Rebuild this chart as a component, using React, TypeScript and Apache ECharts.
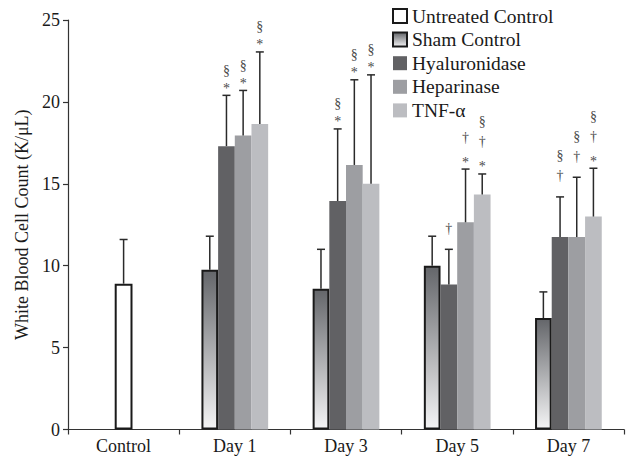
import React, { useEffect, useRef } from "react";
import * as echarts from "echarts";

const categories = ["Control", "Day 1", "Day 3", "Day 5", "Day 7"];
const seriesNames = ["Untreated Control", "Sham Control", "Hyaluronidase", "Heparinase", "TNF-α"];

const untreatedMean = [8.9, null, null, null, null];
const untreatedUpper = [11.6, null, null, null, null];
const shamMean = [null, 9.75, 8.6, 10.0, 6.8];
const shamUpper = [null, 11.8, 11.0, 11.8, 8.4];
const hyalMean = [null, 17.3, 13.95, 8.85, 11.75];
const hyalUpper = [null, 20.4, 18.35, 11.0, 14.2];
const hepMean = [null, 17.95, 16.15, 12.65, 11.75];
const hepUpper = [null, 20.7, 21.35, 15.9, 15.4];
const tnfMean = [null, 18.65, 15.0, 14.35, 13.0];
const tnfUpper = [null, 23.05, 21.65, 15.6, 15.95];

const untreatedMarks = ["", "", "", "", ""];
const shamMarks = ["", "", "", "", ""];
const hyalMarks = ["", "*§", "*§", "†", "†§"];
const hepMarks = ["", "*§", "*§", "*†", "†§"];
const tnfMarks = ["", "*§", "*§", "*†§", "*†§"];

const yTicks = [0, 5, 10, 15, 20, 25];

const FONT = "'Liberation Serif', 'Times New Roman', serif";

function errSeries(means: (number | null)[], uppers: (number | null)[], marks: string[], offset: number, frac: number, xAxisIndex: number) {
  const data: number[][] = [];
  means.forEach((m, i) => {
    if (m != null && uppers[i] != null) data.push([i, m, uppers[i] as number]);
  });
  return {
    type: "custom",
    xAxisIndex,
    yAxisIndex: 0,
    z: 10,
    silent: true,
    clip: false,
    data,
    renderItem: (params: any, api: any) => {
      const i = api.value(0);
      const mean = api.value(1);
      const up = api.value(2);
      const base = api.coord([i, mean]);
      const top = api.coord([i, up]);
      const bw = api.size([1, 0])[0] * frac;
      const x = base[0] + offset * bw;
      const children: any[] = [
        { type: "line", shape: { x1: x, y1: base[1], x2: x, y2: top[1] }, style: { stroke: "#2a2a2a", lineWidth: 1.5 } },
        { type: "line", shape: { x1: x - 4, y1: top[1], x2: x + 4, y2: top[1] }, style: { stroke: "#2a2a2a", lineWidth: 1.5 } },
      ];
      const m = marks[i] || "";
      let vc = top[1];
      let prev = "";
      for (const ch of Array.from(m)) {
        if (prev === "") vc = ch === "*" ? top[1] - 9 : top[1] - 20;
        else if (prev === "*") vc = vc - (ch === "†" ? 22 : 15);
        else vc = vc - 20;
        const ty = ch === "*" ? vc + 2 : vc - 1;
        children.push({
          type: "text",
          style: { text: ch, x, y: ty, align: "center", verticalAlign: "middle", fill: "#4a4a4a", font: `14px ${FONT}` },
        });
        prev = ch;
      }
      return { type: "group", children };
    },
  };
}

export default function App() {
  const ref = useRef<HTMLDivElement>(null);
  useEffect(() => {
    if (!ref.current) return;
    const chart = echarts.init(ref.current, null, { renderer: "svg" });
    const shamGrad = new echarts.graphic.LinearGradient(0, 0, 0, 1, [
      { offset: 0, color: "#64666a" },
      { offset: 1, color: "#f4f4f5" },
    ]);
    const barW = 0.15;
    const untW = 0.16;
    chart.setOption({
      animation: false,
      backgroundColor: "#ffffff",
      textStyle: { fontFamily: FONT },
      grid: { left: 68, right: 7, top: 20, bottom: 28.5, containLabel: false },
      legend: {
        data: seriesNames,
        orient: "vertical",
        left: 387,
        top: 1,
        itemWidth: 14,
        itemHeight: 14,
        itemGap: 3.6,
        icon: "rect",
        textStyle: { fontFamily: FONT, fontSize: 19.5, color: "#1a1a1a", lineHeight: 19 },
      },
      xAxis: [
        {
          type: "category",
          data: categories,
          axisLine: { lineStyle: { color: "#333", width: 1.2 } },
          axisTick: { show: true, length: 5, lineStyle: { color: "#333", width: 1.2 } },
          axisLabel: { fontFamily: FONT, fontSize: 18, color: "#1a1a1a", margin: 7 },
        },
        { type: "category", data: categories, show: false },
      ],
      yAxis: {
        type: "value",
        min: 0,
        max: 25,
        interval: 5,
        name: "White Blood Cell Count (K/μL)",
        nameLocation: "middle",
        nameGap: 36,
        nameTextStyle: { fontFamily: FONT, fontSize: 18, color: "#1a1a1a" },
        axisLine: { show: true, lineStyle: { color: "#333", width: 1.2 } },
        axisTick: { show: true, length: 5, lineStyle: { color: "#333", width: 1.2 } },
        axisLabel: {
          fontFamily: FONT,
          fontSize: 18,
          color: "#1a1a1a",
          margin: 8,
          formatter: (v: number) => (yTicks.includes(v) ? String(v) : ""),
        },
        splitLine: { show: false },
      },
      series: [
        {
          name: seriesNames[0],
          type: "bar",
          xAxisIndex: 0,
          barWidth: untW * 100 + "%",
          data: untreatedMean,
          itemStyle: { color: "#ffffff", borderColor: "#1a1a1a", borderWidth: 2 },
        },
        {
          name: seriesNames[1],
          type: "bar",
          xAxisIndex: 1,
          barWidth: barW * 100 + "%",
          barGap: "0%",
          data: shamMean,
          itemStyle: { color: shamGrad, borderColor: "#1a1a1a", borderWidth: 2 },
        },
        {
          name: seriesNames[2],
          type: "bar",
          xAxisIndex: 1,
          barWidth: barW * 100 + "%",
          barGap: "0%",
          data: hyalMean,
          itemStyle: { color: "#616164" },
        },
        {
          name: seriesNames[3],
          type: "bar",
          xAxisIndex: 1,
          barWidth: barW * 100 + "%",
          barGap: "0%",
          data: hepMean,
          itemStyle: { color: "#9d9ea2" },
        },
        {
          name: seriesNames[4],
          type: "bar",
          xAxisIndex: 1,
          barWidth: barW * 100 + "%",
          barGap: "0%",
          data: tnfMean,
          itemStyle: { color: "#bcbdc1" },
        },
        errSeries(untreatedMean, untreatedUpper, untreatedMarks, 0, untW, 0),
        errSeries(shamMean, shamUpper, shamMarks, -1.5, barW, 1),
        errSeries(hyalMean, hyalUpper, hyalMarks, -0.5, barW, 1),
        errSeries(hepMean, hepUpper, hepMarks, 0.5, barW, 1),
        errSeries(tnfMean, tnfUpper, tnfMarks, 1.5, barW, 1),
      ],
    });
    return () => chart.dispose();
  }, []);
  return <div ref={ref} style={{ position: "absolute", left: 0, top: 0, width: 631, height: 458 }} />;
}
